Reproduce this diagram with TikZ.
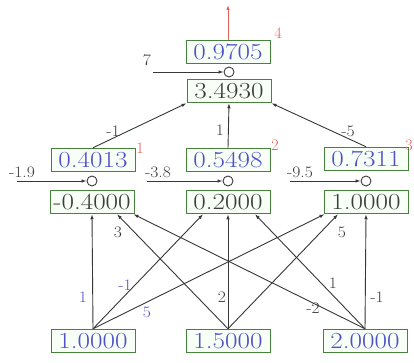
\documentclass[tikz,border=0pt]{standalone}
\usepackage{graphicx}
\usetikzlibrary{arrows.meta,calc}
\definecolor{boxgreen}{RGB}{70,130,60}
\definecolor{valblue}{RGB}{80,80,200}
\definecolor{netgray}{RGB}{60,60,60}
\definecolor{edgegray}{RGB}{55,55,55}
\definecolor{idred}{RGB}{225,95,85}
\newcommand\widebox[1]{\scalebox{1.18}[1]{#1}}
\newcommand\widelab[1]{\scalebox{1.1}[1]{#1}}
\begin{document}
\begin{tikzpicture}[x=1pt,y=-1pt,
  valbox/.style={draw=boxgreen, fill=green!3!white, line width=1pt, minimum width=84pt, minimum height=23.5pt, inner sep=1pt, font=\fontsize{23}{24}\selectfont, text=valblue},
  netbox/.style={valbox, text=netgray},
  sumnode/.style={circle, draw=netgray, fill=white, minimum size=10pt, inner sep=0pt, line width=0.9pt},
  wire/.style={draw=edgegray, line width=0.9pt, -{Latex[length=5pt,width=3.5pt]}},
  wlab/.style={font=\fontsize{16}{16}\selectfont, text=netgray, inner sep=0pt},
  wlabb/.style={wlab, text=valblue},
  idlab/.style={font=\fontsize{16}{16}\selectfont, text=idred, inner sep=0pt}]
\useasboundingbox (0,0) rectangle (414,363);
\fill[white] (0,0) rectangle (414,363);

% input layer
\node[valbox] (x1) at (93,341) {\widebox{1.0000}};
\node[valbox] (x2) at (228,341) {\widebox{1.5000}};
\node[valbox] (x3) at (365,341) {\widebox{2.0000}};

% hidden layer: net values, summation points, outputs
\node[netbox] (n1) at (92,202) {\widebox{-0.4000}};
\node[netbox] (n2) at (228,202) {\widebox{0.2000}};
\node[netbox] (n3) at (366,202) {\widebox{1.0000}};
\node[sumnode] (s1) at (92,181) {};
\node[sumnode] (s2) at (228,181) {};
\node[sumnode] (s3) at (366,181) {};
\node[valbox] (h1) at (93,160) {\widebox{0.4013}};
\node[valbox] (h2) at (228,160) {\widebox{0.5498}};
\node[valbox] (h3) at (366,159) {\widebox{0.7311}};

% output layer
\node[netbox] (on) at (229,91) {\widebox{3.4930}};
\node[sumnode] (so) at (229,72) {};
\node[valbox] (o) at (228,52) {\widebox{0.9705}};

% input -> net connectors
\draw[wire] (x1.north) -- (n1.south);
\draw[wire] (x1.north) -- ([xshift=-25pt]n2.south);
\draw[wire] (x1.north) -- ([xshift=1pt]n3.south west);
\draw[wire] (x2.north) -- ([xshift=25pt]n1.south);
\draw[wire] (x2.north) -- (n2.south);
\draw[wire] (x2.north) -- ([xshift=-28pt]n3.south);
\draw[wire] (x3.north) -- ([xshift=-1pt]n1.south east);
\draw[wire] (x3.north) -- ([xshift=27pt]n2.south);
\draw[wire] (x3.north) -- (n3.south);

% weights input -> hidden
\node[wlabb] (w11) at (83,297) {\widelab{1}};
\node[wlabb] (w12) at (125,285) {\widelab{-1}};
\node[wlabb] (w13) at (147,312) {\widelab{5}};
\node[wlab] (w21) at (118,232) {\widelab{3}};
\node[wlab] (w22) at (222,297) {\widelab{2}};
\node[wlab] (w23) at (342,232) {\widelab{5}};
\node[wlab] (w31) at (313,308) {\widelab{-2}};
\node[wlab] (w32) at (333,283) {\widelab{1}};
\node[wlab] (w33) at (377,297) {\widelab{-1}};

% biases of hidden layer
\coordinate (b1) at (17,181);
\coordinate (b2) at (147,181);
\coordinate (b3) at (290,181);
\draw[wire] (b1) -- (s1.west);
\draw[wire] (b2) -- (s2.west);
\draw[wire] (b3) -- (s3.west);
\node[wlab] (bl1) at (22,172) {\widelab{-1.9}};
\node[wlab] (bl2) at (158,172) {\widelab{-3.8}};
\node[wlab] (bl3) at (300,172) {\widelab{-9.5}};

% hidden -> output connectors
\draw[wire] (h1.north) -- (on.south west);
\draw[wire] (h2.north) -- (on.south);
\draw[wire] (h3.north) -- (on.south east);
\node[wlab] (v1) at (113,131) {\widelab{-1}};
\node[wlab] (v2) at (220,130) {\widelab{1}};
\node[wlab] (v3) at (348,131) {\widelab{-5}};

% output bias
\coordinate (bo) at (153,72);
\draw[wire] (bo) -- (so.west);
\node[wlab] (blo) at (147,60) {\widelab{7}};

% output arrow
\coordinate (top) at (228,5);
\draw[draw=idred, line width=0.9pt, -{Latex[length=5pt,width=3.5pt]}] (o.north) -- (top);

% neuron numbers
\node[idlab] (id1) at (140,148) {1};
\node[idlab] (id2) at (275,145) {2};
\node[idlab] (id3) at (409,145) {3};
\node[idlab] (id4) at (278,33) {4};
\end{tikzpicture}
\end{document}
